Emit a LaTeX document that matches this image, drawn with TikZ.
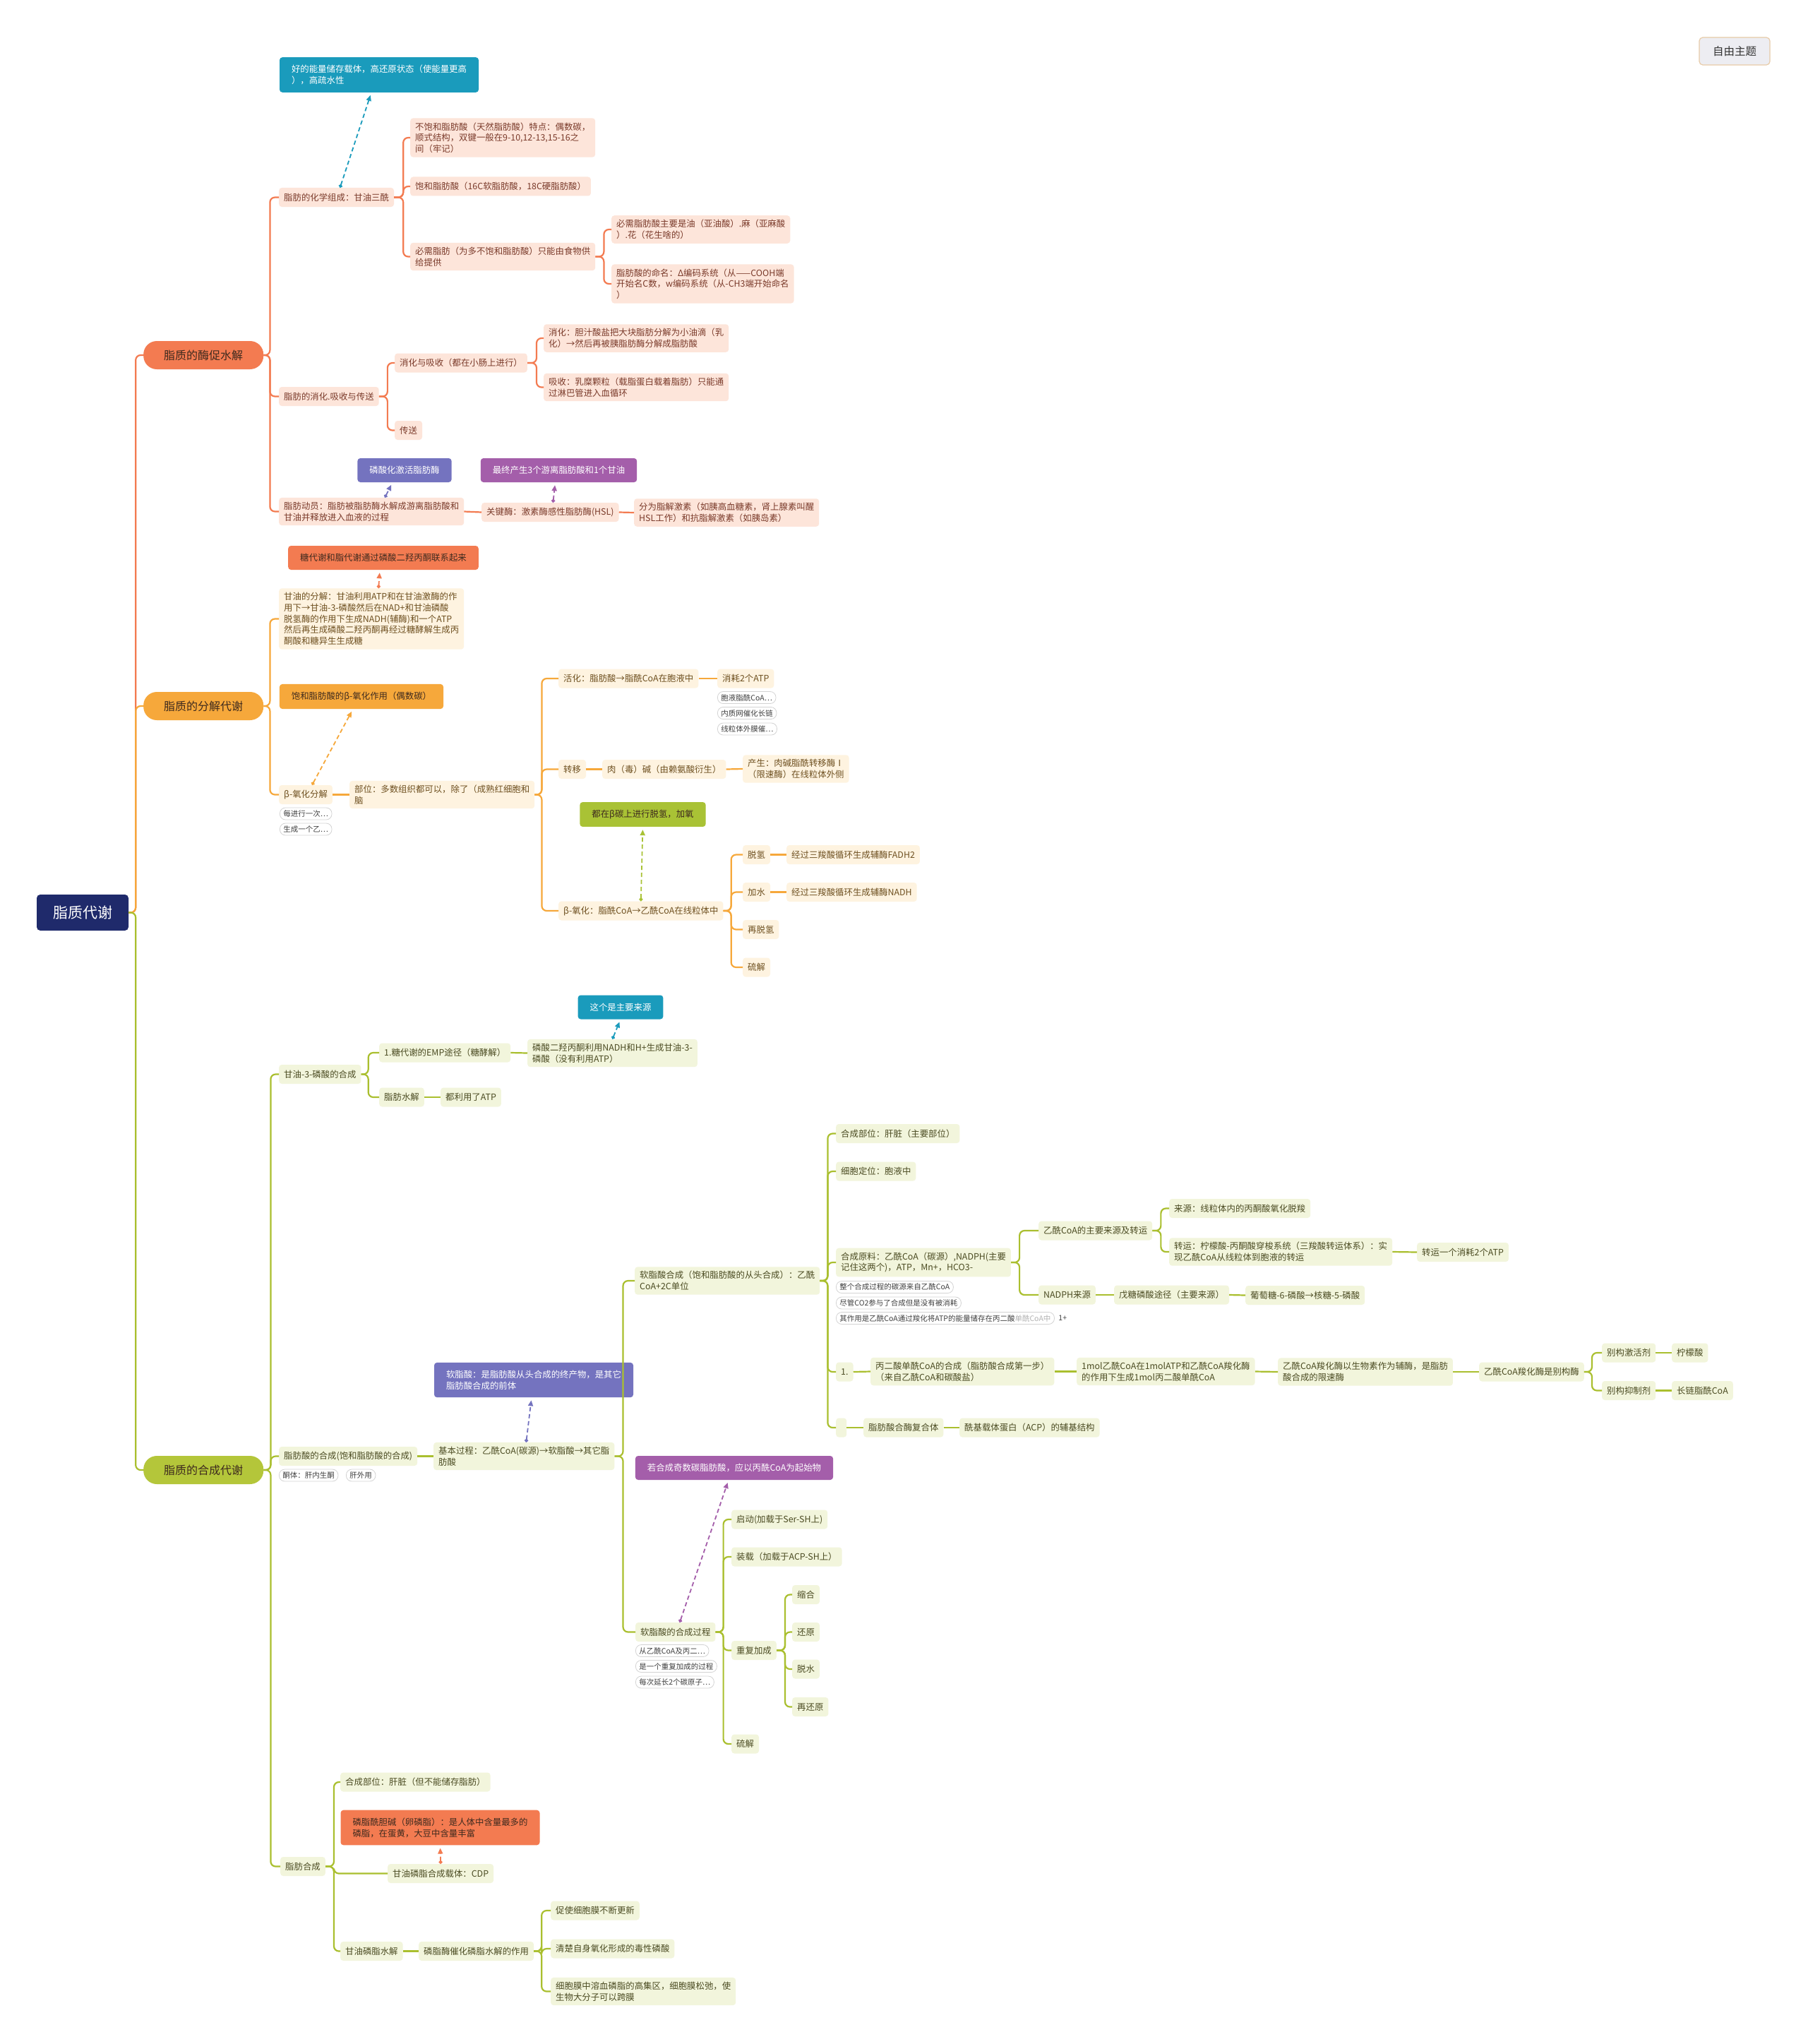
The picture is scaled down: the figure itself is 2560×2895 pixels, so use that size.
\documentclass[tikz,border=0pt]{standalone}
\usepackage{fontspec}
\setmainfont{Noto Sans CJK SC}
\usepackage{xcolor}
\usepackage{tikz}
\usetikzlibrary{arrows.meta,calc,positioning}

\definecolor{rootblue}{HTML}{1F2A6B}
\definecolor{redmain}{HTML}{F37B51}
\definecolor{redfill}{HTML}{FDE5DA}
\definecolor{redtext}{HTML}{7A3A2A}
\definecolor{orgmain}{HTML}{F6A83B}
\definecolor{orgfill}{HTML}{FEF3E0}
\definecolor{orgtext}{HTML}{6E5020}
\definecolor{grnmain}{HTML}{AABF2F}
\definecolor{grnpill}{HTML}{B4C63A}
\definecolor{grnfill}{HTML}{F2F5DC}
\definecolor{grntext}{HTML}{4B4B22}
\definecolor{calteal}{HTML}{1A9BBC}
\definecolor{calblue}{HTML}{7473BF}
\definecolor{calpurple}{HTML}{A45EAA}
\definecolor{calgreen}{HTML}{A9C235}
\definecolor{darktext}{HTML}{3E2A1E}
\definecolor{tagline}{HTML}{D3D3D3}
\definecolor{freefill}{HTML}{EDEDF2}
\definecolor{freeline}{HTML}{E8CBA8}

\begin{document}
\begin{tikzpicture}[x=1pt, y=-1pt, >=Stealth,
  base/.style={anchor=west, align=left, inner xsep=7pt, inner ysep=6pt,
    minimum height=27pt, rounded corners=4pt, font=\fontsize{12.4}{15.7}\selectfont},
  rnode/.style={base, fill=redfill, text=redtext},
  onode/.style={base, fill=orgfill, text=orgtext},
  gnode/.style={base, fill=grnfill, text=grntext},
  callout/.style={align=left, inner xsep=17pt, inner ysep=11pt, minimum height=34pt,
    rounded corners=4pt, font=\fontsize{12.4}{15.7}\selectfont, text=white},
  tagbox/.style={anchor=west, draw=tagline, fill=white, line width=0.8pt,
    rounded corners=8pt, inner xsep=5pt, inner ysep=2pt, minimum height=17pt,
    font=\fontsize{10.5}{12}\selectfont, text=black!75},
  branch/.style={anchor=west, minimum width=170pt, minimum height=40pt,
    rounded corners=19pt, font=\fontsize{16}{19}\selectfont, text=darktext},
  link/.style={line width=2.2pt, rounded corners=7pt},
  hint/.style={line width=1.8pt, dash pattern=on 6pt off 4pt,
    arrows={Circle[length=5pt]-Triangle[length=8pt,width=7pt]}, shorten >=4pt}
]

\useasboundingbox (0,0) rectangle (2560,2895);
\fill[white] (0,0) rectangle (2560,2895);

% free topic, top right
\node[draw=freeline, fill=freefill, line width=1.2pt, rounded corners=5pt,
  minimum width=100pt, minimum height=39pt,
  font=\fontsize{15.5}{18}\selectfont, text=black!80] (free) at (2457,72.5) {自由主题};

% root
\node[fill=rootblue, text=white, rounded corners=5pt, minimum width=130pt,
  minimum height=51pt, font=\fontsize{21}{24}\selectfont] (root) at (117,1292.5) {脂质代谢};

% =========================================================
% Branch 1: enzymatic hydrolysis
% =========================================================
\node[branch, fill=redmain] (enz) at (203,503) {脂质的酶促水解};

\node[rnode] (enzChem) at (395,279.5) {脂肪的化学组成：甘油三酰};
\node[rnode] (enzUnsat) at (581,195) {不饱和脂肪酸（天然脂肪酸）特点：偶数碳，\\顺式结构，双键一般在9-10,12-13,15-16之\\间（牢记）};
\node[rnode] (enzSat) at (581,264) {饱和脂肪酸（16C软脂肪酸，18C硬脂肪酸）};
\node[rnode] (enzEss) at (581,363.5) {必需脂肪（为多不饱和脂肪酸）只能由食物供\\给提供};
\node[rnode] (enzEssOil) at (866,325) {必需脂肪酸主要是油（亚油酸）.麻（亚麻酸\\）.花（花生啥的）};
\node[rnode] (enzName) at (866,402) {脂肪酸的命名：Δ编码系统（从——COOH端\\开始名C数，w编码系统（从-CH3端开始命名\\）};

\node[rnode] (enzDig) at (395,561.5) {脂肪的消化.吸收与传送};
\node[rnode] (enzDigAbs) at (559,514) {消化与吸收（都在小肠上进行）};
\node[rnode] (enzDigest) at (770,479) {消化：胆汁酸盐把大块脂肪分解为小油滴（乳\\化）→然后再被胰脂肪酶分解成脂肪酸};
\node[rnode] (enzAbsorb) at (770,548.5) {吸收：乳糜颗粒（载脂蛋白载着脂肪）只能通\\过淋巴管进入血循环};
\node[rnode] (enzTrans) at (559,609.5) {传送};

\node[rnode] (enzMob) at (395,724.5) {脂肪动员：脂肪被脂肪酶水解成游离脂肪酸和\\甘油并释放进入血液的过程};
\node[rnode] (enzKey) at (682,725.5) {关键酶：激素酶感性脂肪酶(HSL)};
\node[rnode] (enzHorm) at (898,726) {分为脂解激素（如胰高血糖素，肾上腺素叫醒\\HSL工作）和抗脂解激素（如胰岛素）};

% callouts
\node[callout, fill=calteal] (enzStore) at (537,106) {好的能量储存载体，高还原状态（使能量更高\\），高疏水性};
\node[callout, fill=calblue] (enzPhos) at (573,666) {磷酸化激活脂肪酶};
\node[callout, fill=calpurple] (enzFinal) at (791.5,666) {最终产生3个游离脂肪酸和1个甘油};

\draw[link, redmain] (root.east) -- ++(10,0) |- (enz.west);
\foreach \c in {enzChem,enzDig,enzMob}
  \draw[link, redmain] (enz.east) -- ++(9,0) |- (\c.west);
\foreach \c in {enzUnsat,enzSat,enzEss}
  \draw[link, redmain] (enzChem.east) -- ++(13,0) |- (\c.west);
\foreach \c in {enzEssOil,enzName}
  \draw[link, redmain] (enzEss.east) -- ++(12,0) |- (\c.west);
\foreach \c in {enzDigAbs,enzTrans}
  \draw[link, redmain] (enzDig.east) -- ++(12,0) |- (\c.west);
\foreach \c in {enzDigest,enzAbsorb}
  \draw[link, redmain] (enzDigAbs.east) -- ++(13,0) |- (\c.west);
\draw[link, redmain] (enzMob.east) -- (enzKey.west);
\draw[link, redmain] (enzKey.east) -- (enzHorm.west);

\draw[hint, calteal] ([xshift=5pt]enzChem.north) -- ([xshift=-11pt]enzStore.south);
\draw[hint, calblue] ([xshift=19pt]enzMob.north) -- ([xshift=-17pt]enzPhos.south);
\draw[hint, calpurple] ([xshift=4pt]enzKey.north) -- ([xshift=-5pt]enzFinal.south);

% =========================================================
% Branch 2: decomposition
% =========================================================
\node[branch, fill=orgmain] (dec) at (203,1000) {脂质的分解代谢};

\node[onode] (decGly) at (395,876.5) {甘油的分解：甘油利用ATP和在甘油激酶的作\\用下→甘油-3-磷酸然后在NAD+和甘油磷酸\\脱氢酶的作用下生成NADH(辅酶)和一个ATP\\然后再生成磷酸二羟丙酮再经过糖酵解生成丙\\酮酸和糖异生生成糖};
\node[callout, fill=redmain, text=darktext] (decSugar) at (543,790) {糖代谢和脂代谢通过磷酸二羟丙酮联系起来};

\node[onode] (decBeta) at (395,1125.5) {β-氧化分解};
\node[callout, fill=orgmain, text=darktext] (decSatBeta) at (512,986.5) {饱和脂肪酸的β-氧化作用（偶数碳）};
\foreach \y/\txt [count=\i] in {1152.5/{每进行一次\ldots},1174.5/{生成一个乙\ldots}}
  \node[tagbox] (decBetaTag\i) at (396,\y) {\txt};

\node[onode] (decSite) at (495,1125.5) {部位：多数组织都可以，除了（成熟红细胞和\\脑};
\node[onode] (decAct) at (791,961) {活化：脂肪酸→脂酰CoA在胞液中};
\node[onode] (decATP) at (1016,961) {消耗2个ATP};
\foreach \y/\txt [count=\i] in {988/{胞液脂酰CoA\ldots},1010/{内质网催化长链},1032.5/{线粒体外膜催\ldots}}
  \node[tagbox] (decATPTag\i) at (1016,\y) {\txt};
\node[onode] (decMove) at (791,1089.5) {转移};
\node[onode] (decCarn) at (853,1089.5) {肉（毒）碱（由赖氨酸衍生）};
\node[onode] (decCPT) at (1052,1089) {产生：肉碱脂酰转移酶Ⅰ\\（限速酶）在线粒体外侧};

\node[onode] (decOx) at (791,1290) {β-氧化：脂酰CoA→乙酰CoA在线粒体中};
\node[callout, fill=calgreen, text=darktext] (decOxNote) at (910.5,1153.5) {都在β碳上进行脱氢，加氧};
\node[onode] (decDH) at (1052,1210.5) {脱氢};
\node[onode] (decFAD) at (1114,1210.5) {经过三羧酸循环生成辅酶FADH2};
\node[onode] (decHyd) at (1052,1263.5) {加水};
\node[onode] (decNADH) at (1114,1263.5) {经过三羧酸循环生成辅酶NADH};
\node[onode] (decDH2) at (1052,1316.5) {再脱氢};
\node[onode] (decThio) at (1052,1370) {硫解};

\draw[link, orgmain] (root.east) -- ++(10,0) |- (dec.west);
\foreach \c in {decGly,decBeta}
  \draw[link, orgmain] (dec.east) -- ++(9,0) |- (\c.west);
\draw[link, orgmain] (decBeta.east) -- (decSite.west);
\foreach \c in {decAct,decMove,decOx}
  \draw[link, orgmain] (decSite.east) -- ++(10,0) |- (\c.west);
\draw[link, orgmain] (decAct.east) -- (decATP.west);
\draw[link, orgmain] (decMove.east) -- (decCarn.west);
\draw[link, orgmain] (decCarn.east) -- (decCPT.west);
\foreach \c in {decDH,decHyd,decDH2,decThio}
  \draw[link, orgmain] (decOx.east) -- ++(11,0) |- (\c.west);
\draw[link, orgmain] (decDH.east) -- (decFAD.west);
\draw[link, orgmain] (decHyd.east) -- (decNADH.west);

\draw[hint, redmain] ([xshift=10pt]decGly.north) -- ([xshift=-5pt]decSugar.south);
\draw[hint, orgmain] ([xshift=9pt]decBeta.north) -- ([xshift=-12pt]decSatBeta.south);
\draw[hint, calgreen] (decOx.north) -- (decOxNote.south);

% =========================================================
% Branch 3: synthesis
% =========================================================
\node[branch, fill=grnpill] (syn) at (203,2082) {脂质的合成代谢};

% glycerol-3-phosphate
\node[gnode] (synG3P) at (395,1521.5) {甘油-3-磷酸的合成};
\node[gnode] (synEMP) at (537,1491) {1.糖代谢的EMP途径（糖酵解）};
\node[gnode] (synDHAP) at (747,1491.5) {磷酸二羟丙酮利用NADH和H+生成甘油-3-\\磷酸（没有利用ATP）};
\node[callout, fill=calteal] (synMain) at (879,1426.5) {这个是主要来源};
\node[gnode] (synLip) at (537,1554) {脂肪水解};
\node[gnode] (synLipATP) at (624,1554) {都利用了ATP};

% fatty acid synthesis
\node[gnode] (synFA) at (395,2062.5) {脂肪酸的合成(饱和脂肪酸的合成)};
\node[tagbox] (synFATag1) at (395,2089.5) {酮体：肝内生酮};
\node[tagbox] (synFATag2) at (490,2089.5) {肝外用};
\node[gnode] (synBasic) at (614,2062.5) {基本过程：乙酰CoA(碳源)→软脂酸→其它脂\\肪酸};
\node[callout, fill=calblue] (synPalm) at (756,1954.5) {软脂酸：是脂肪酸从头合成的终产物，是其它\\脂肪酸合成的前体};

\node[gnode] (synDeNovo) at (899,1814) {软脂酸合成（饱和脂肪酸的从头合成）：乙酰\\CoA+2C单位};
\node[gnode] (synSite) at (1184,1605.5) {合成部位：肝脏（主要部位）};
\node[gnode] (synCell) at (1184,1659) {细胞定位：胞液中};
\node[gnode] (synRaw) at (1184,1788) {合成原料：乙酰CoA（碳源）,NADPH(主要\\记住这两个)，ATP，Mn+，HCO3-};
\node[tagbox] (synRawTag1) at (1184,1823) {整个合成过程的碳源来自乙酰CoA};
\node[tagbox] (synRawTag2) at (1184,1845.5) {尽管CO2参与了合成但是没有被消耗};
\node[tagbox] (synRawTag3) at (1184,1867) {其作用是乙酰CoA通过羧化将ATP的能量储存在丙二酸{\color{black!30}单酰CoA中}};
\node[font=\fontsize{10.5}{12}\selectfont, text=black!75, right=2pt of synRawTag3] (synRawMore) {1+};

\node[gnode] (synAcSrc) at (1471,1743) {乙酰CoA的主要来源及转运};
\node[gnode] (synAcFrom) at (1656,1711.5) {来源：线粒体内的丙酮酸氧化脱羧};
\node[gnode] (synAcMove) at (1656,1773) {转运：柠檬酸-丙酮酸穿梭系统（三羧酸转运体系）：实\\现乙酰CoA从线粒体到胞液的转运};
\node[gnode] (synAcATP) at (2007,1773.5) {转运一个消耗2个ATP};
\node[gnode] (synNADPH) at (1471,1834) {NADPH来源};
\node[gnode] (synPPP) at (1578,1834) {戊糖磷酸途径（主要来源）};
\node[gnode] (synG6P) at (1764,1834.5) {葡萄糖-6-磷酸→核糖-5-磷酸};

\node[gnode] (synOne) at (1184,1943) {1.};
\node[gnode] (synMal) at (1233,1942.5) {丙二酸单酰CoA的合成（脂肪酸合成第一步）\\（来自乙酰CoA和碳酸盐）};
\node[gnode] (synMol) at (1525,1942.5) {1mol乙酰CoA在1molATP和乙酰CoA羧化酶\\的作用下生成1mol丙二酸单酰CoA};
\node[gnode] (synACC) at (1810,1943) {乙酰CoA羧化酶以生物素作为辅酶，是脂肪\\酸合成的限速酶};
\node[gnode] (synAllo) at (2095,1943) {乙酰CoA羧化酶是别构酶};
\node[gnode] (synAct) at (2269,1916) {别构激活剂};
\node[gnode] (synCit) at (2368,1916) {柠檬酸};
\node[gnode] (synInh) at (2269,1969.5) {别构抑制剂};
\node[gnode] (synLCoA) at (2368,1969.5) {长链脂酰CoA};

\node[gnode, minimum width=15pt, inner xsep=0pt] (synBlank) at (1184,2022) {};
\node[gnode] (synFAS) at (1223,2022) {脂肪酸合酶复合体};
\node[gnode] (synACP) at (1359,2022) {酰基载体蛋白（ACP）的辅基结构};

% palmitate synthesis process
\node[gnode] (synProc) at (900,2311.5) {软脂酸的合成过程};
\foreach \y/\txt [count=\i] in {2338/{从乙酰CoA及丙二\ldots},2360/{是一个重复加成的过程},2382.5/{每次延长2个碳原子\ldots}}
  \node[tagbox] (synProcTag\i) at (900,\y) {\txt};
\node[callout, fill=calpurple] (synOdd) at (1040,2079) {若合成奇数碳脂肪酸，应以丙酰CoA为起始物};
\node[gnode] (synStart) at (1036,2152) {启动(加载于Ser-SH上)};
\node[gnode] (synLoad) at (1036,2205) {装载（加载于ACP-SH上）};
\node[gnode] (synRep) at (1036,2337.5) {重复加成};
\node[gnode] (synCond) at (1122,2258.5) {缩合};
\node[gnode] (synRed) at (1122,2311.5) {还原};
\node[gnode] (synDehy) at (1122,2364) {脱水};
\node[gnode] (synRed2) at (1122,2417.5) {再还原};
\node[gnode] (synThio) at (1036,2470) {硫解};

% fat synthesis
\node[gnode] (synFat) at (397,2643.5) {脂肪合成};
\node[gnode] (synFatSite) at (482,2524) {合成部位：肝脏（但不能储存脂肪）};
\node[callout, fill=redmain, text=darktext] (synPC) at (623.5,2588.5) {磷脂酰胆碱（卵磷脂）：是人体中含量最多的\\磷脂，在蛋黄，大豆中含量丰富};
\node[gnode] (synCDP) at (549,2653.5) {甘油磷脂合成载体：CDP};
\node[gnode] (synHyd) at (482,2763.5) {甘油磷脂水解};
\node[gnode] (synPLA) at (593,2763.5) {磷脂酶催化磷脂水解的作用};
\node[gnode] (synRenew) at (780,2706) {促使细胞膜不断更新};
\node[gnode] (synClear) at (780,2760) {清楚自身氧化形成的毒性磷酸};
\node[gnode] (synLyso) at (780,2820.5) {细胞膜中溶血磷脂的高集区，细胞膜松弛，使\\生物大分子可以跨膜};

\draw[link, grnmain] (root.east) -- ++(10,0) |- (syn.west);
\foreach \c in {synG3P,synFA,synFat}
  \draw[link, grnmain] (syn.east) -- ++(10,0) |- (\c.west);
\foreach \c in {synEMP,synLip}
  \draw[link, grnmain] (synG3P.east) -- ++(10,0) |- (\c.west);
\draw[link, grnmain] (synEMP.east) -- (synDHAP.west);
\draw[link, grnmain] (synLip.east) -- (synLipATP.west);
\draw[link, grnmain] (synFA.east) -- (synBasic.west);
\foreach \c in {synDeNovo,synProc}
  \draw[link, grnmain] (synBasic.east) -- ++(12,0) |- (\c.west);
\foreach \c in {synSite,synCell,synRaw,synOne,synBlank}
  \draw[link, grnmain] (synDeNovo.east) -- ++(11,0) |- (\c.west);
\foreach \c in {synAcSrc,synNADPH}
  \draw[link, grnmain] (synRaw.east) -- ++(12,0) |- (\c.west);
\foreach \c in {synAcFrom,synAcMove}
  \draw[link, grnmain] (synAcSrc.east) -- ++(12,0) |- (\c.west);
\draw[link, grnmain] (synAcMove.east) -- (synAcATP.west);
\draw[link, grnmain] (synNADPH.east) -- (synPPP.west);
\draw[link, grnmain] (synPPP.east) -- (synG6P.west);
\draw[link, grnmain] (synOne.east) -- (synMal.west);
\draw[link, grnmain] (synMal.east) -- (synMol.west);
\draw[link, grnmain] (synMol.east) -- (synACC.west);
\draw[link, grnmain] (synACC.east) -- (synAllo.west);
\foreach \c in {synAct,synInh}
  \draw[link, grnmain] (synAllo.east) -- ++(11,0) |- (\c.west);
\draw[link, grnmain] (synAct.east) -- (synCit.west);
\draw[link, grnmain] (synInh.east) -- (synLCoA.west);
\draw[link, grnmain] (synBlank.east) -- (synFAS.west);
\draw[link, grnmain] (synFAS.east) -- (synACP.west);
\foreach \c in {synStart,synLoad,synRep,synThio}
  \draw[link, grnmain] (synProc.east) -- ++(11,0) |- (\c.west);
\foreach \c in {synCond,synRed,synDehy,synRed2}
  \draw[link, grnmain] (synRep.east) -- ++(12,0) |- (\c.west);
\foreach \c in {synFatSite,synCDP,synHyd}
  \draw[link, grnmain] (synFat.east) -- ++(12,0) |- (\c.west);
\draw[link, grnmain] (synHyd.east) -- (synPLA.west);
\foreach \c in {synRenew,synClear,synLyso}
  \draw[link, grnmain] (synPLA.east) -- ++(11,0) |- (\c.west);

\draw[hint, calteal] (synDHAP.north) -- (synMain.south);
\draw[hint, calblue] ([xshift=3pt]synBasic.north) -- ([xshift=-3pt]synPalm.south);
\draw[hint, calpurple] ([xshift=6pt]synProc.north) -- ([xshift=-8pt]synOdd.south);
\draw[hint, redmain] (synCDP.north) -- (synPC.south);

\end{tikzpicture}
\end{document}
